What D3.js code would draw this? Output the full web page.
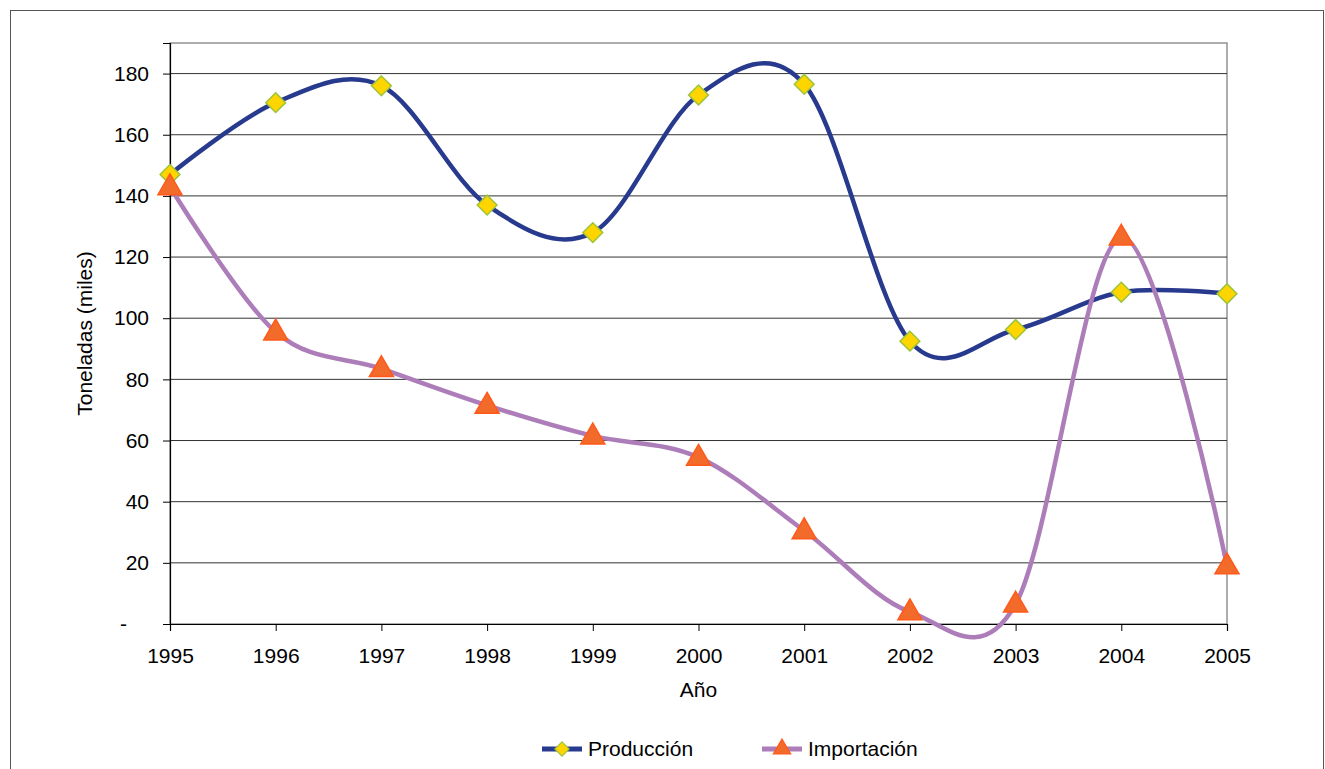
<!DOCTYPE html>
<html lang="es">
  <head>
    <meta charset="UTF-8" />
    <title>Producción e Importación</title>
    <script src="https://d3js.org/d3.v7.min.js"></script>
    <style>
      body {
        margin: 0;
        background: #fff;
      }
      svg text {
        font-family: "Liberation Sans", Arial, sans-serif;
        fill: #000;
      }
    </style>
  </head>
  <body>
    <div id="chart"></div>
    <script>
      const years = ["1995", "1996", "1997", "1998", "1999", "2000", "2001", "2002", "2003", "2004", "2005"];
      const produccion = [147, 170.5, 176, 137, 128, 173, 176.5, 92.5, 96.3, 108.5, 108];
      const importacion = [143, 95.5, 83.5, 71.5, 61.5, 54.5, 30.5, 4, 6.5, 126.5, 19];
      const yTicks = [0, 20, 40, 60, 80, 100, 120, 140, 160, 180];

      const W = 1325, H = 769;
      const plot = {left: 170, top: 43, right: 1227, bottom: 624};
      const fontSize = 21;

      const svg = d3.select("#chart").append("svg").attr("width", W).attr("height", H);

      // outer chart border
      svg.append("rect")
        .attr("x", 10.5).attr("y", 10.5)
        .attr("width", W - 12).attr("height", H + 20)
        .attr("fill", "none").attr("stroke", "#555").attr("stroke-width", 1);

      const x = d3.scalePoint().domain(years).range([plot.left, plot.right]);
      const y = d3.scaleLinear().domain([0, 190]).range([plot.bottom, plot.top]);

      // plot area frame
      svg.append("rect")
        .attr("x", plot.left).attr("y", plot.top)
        .attr("width", plot.right - plot.left).attr("height", plot.bottom - plot.top)
        .attr("fill", "none").attr("stroke", "#777").attr("stroke-width", 1.2);

      // gridlines
      svg.append("g")
        .selectAll("line")
        .data(yTicks.filter((d) => d > 0))
        .join("line")
        .attr("x1", plot.left).attr("x2", plot.right)
        .attr("y1", (d) => y(d)).attr("y2", (d) => y(d))
        .attr("stroke", "#333").attr("stroke-width", 1);

      // y axis
      const yAxis = svg.append("g")
        .attr("transform", `translate(${plot.left},0)`)
        .call(d3.axisLeft(y).tickValues(yTicks).tickSize(7).tickPadding(14)
          .tickFormat((d) => (d === 0 ? "-" : d)));
      yAxis.select(".domain").attr("stroke", "#000").attr("stroke-width", 1.2);
      yAxis.selectAll(".tick line").attr("stroke", "#000");
      yAxis.selectAll("text").attr("font-size", fontSize).attr("font-family", "Liberation Sans, Arial, sans-serif");
      // accounting-style zero dash sits further left
      yAxis.selectAll(".tick").filter((d) => d === 0).select("text").attr("x", -43);

      // x axis
      const xAxis = svg.append("g")
        .attr("transform", `translate(0,${plot.bottom})`)
        .call(d3.axisBottom(x).tickSize(7).tickPadding(17));
      xAxis.select(".domain").attr("stroke", "#000").attr("stroke-width", 1.2);
      xAxis.selectAll(".tick line").attr("stroke", "#000");
      xAxis.selectAll("text").attr("font-size", fontSize).attr("font-family", "Liberation Sans, Arial, sans-serif");

      // axis titles
      svg.append("text")
        .attr("transform", `translate(92,${(plot.top + plot.bottom) / 2}) rotate(-90)`)
        .attr("text-anchor", "middle")
        .attr("font-size", fontSize)
        .text("Toneladas (miles)");

      svg.append("text")
        .attr("x", (plot.left + plot.right) / 2)
        .attr("y", 697)
        .attr("text-anchor", "middle")
        .attr("font-size", fontSize)
        .text("Año");

      const line = d3.line()
        .x((d, i) => x(years[i]))
        .y((d) => y(d))
        .curve(d3.curveCatmullRom.alpha(0));

      const series = [
        {name: "Producción", values: produccion, color: "#283A8E", marker: "diamond", fill: "#FFD500", stroke: "#9CC43A"},
        {name: "Importación", values: importacion, color: "#AD7DBA", marker: "triangle", fill: "#F26B2B", stroke: "#FF5A1A"},
      ];

      const diamond = d3.symbol().type(d3.symbolDiamond2).size(250);
      const triangle = d3.symbol().type(d3.symbolTriangle).size(250);

      series.forEach((s) => {
        svg.append("path")
          .datum(s.values)
          .attr("d", line)
          .attr("fill", "none")
          .attr("stroke", s.color)
          .attr("stroke-width", 4.5);
      });

      series.forEach((s) => {
        svg.append("g")
          .selectAll("path")
          .data(s.values)
          .join("path")
          .attr("transform", (d, i) => `translate(${x(years[i])},${y(d) + (s.marker === "triangle" ? 1 : 0)})`)
          .attr("d", s.marker === "diamond" ? diamond : triangle)
          .attr("fill", s.fill)
          .attr("stroke", s.stroke)
          .attr("stroke-width", 1.5);
      });

      // legend
      const legend = svg.append("g").attr("transform", "translate(0,749)");
      const legendX = [542, 762];
      series.forEach((s, i) => {
        const g = legend.append("g").attr("transform", `translate(${legendX[i]},0)`);
        g.append("line")
          .attr("x1", 0).attr("x2", 40)
          .attr("stroke", s.color).attr("stroke-width", 5);
        g.append("path")
          .attr("transform", "translate(20,0)")
          .attr("d", s.marker === "diamond"
            ? d3.symbol().type(d3.symbolDiamond2).size(130)()
            : d3.symbol().type(d3.symbolTriangle).size(130)())
          .attr("fill", s.fill)
          .attr("stroke", s.stroke)
          .attr("stroke-width", 1.2);
        g.append("text")
          .attr("x", 46)
          .attr("y", 7)
          .attr("font-size", fontSize)
          .text(s.name);
      });
    </script>
  </body>
</html>
